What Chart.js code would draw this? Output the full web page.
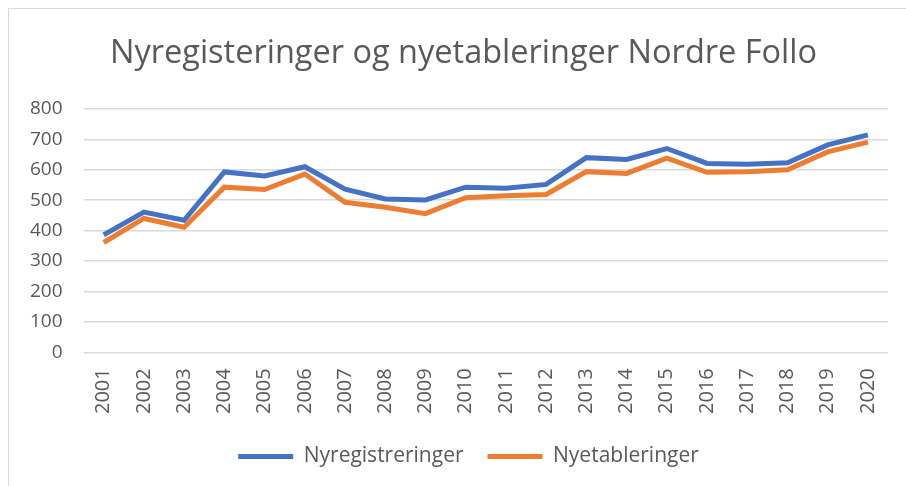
<!DOCTYPE html>
<html lang="no">
<head>
    <meta charset="UTF-8">
    <title>Nyregisteringer og nyetableringer Nordre Follo</title>
    <script src="https://cdn.jsdelivr.net/npm/chart.js"></script>
    <style>
        body {
            margin: 0;
            background: #ffffff;
            overflow: hidden;
        }
        .frame {
            position: absolute;
            left: 8px;
            top: 8px;
            width: 920px;
            height: 500px;
            border: 1px solid #d9d9d9;
            background: #ffffff;
        }
        .chart-box {
            position: absolute;
            left: 0;
            top: 0;
            width: 897px;
            height: 470px;
        }
    </style>
</head>
<body>

<div class="frame">
    <div class="chart-box">
        <canvas id="folloChart"></canvas>
    </div>
</div>

<script>
    // Years on the x axis
    const years = ['2001', '2002', '2003', '2004', '2005', '2006', '2007', '2008', '2009', '2010',
                   '2011', '2012', '2013', '2014', '2015', '2016', '2017', '2018', '2019', '2020'];

    // Values
    const nyregistreringer = [386, 461, 434, 593, 580, 610, 536, 504, 501, 543,
                              539, 552, 640, 634, 670, 621, 618, 623, 682, 715];
    const nyetableringer = [361, 440, 411, 543, 535, 586, 493, 477, 456, 508,
                            515, 519, 594, 588, 638, 592, 594, 600, 659, 691];

    const yTicks = [0, 100, 200, 300, 400, 500, 600, 700, 800];

    const textColor = '#595959';
    Chart.defaults.font.family = '"Open Sans", "Liberation Sans", sans-serif';
    Chart.defaults.color = textColor;

    // Excel centres title and legend over the whole frame, not the plot; nudge them right a bit
    const nudgeBoxes = {
        id: 'nudgeBoxes',
        afterLayout(chart) {
            if (chart.titleBlock) {
                chart.titleBlock.left += 15;
                chart.titleBlock.right += 15;
            }
            if (chart.legend) {
                chart.legend.left += 20;
                chart.legend.right += 20;
            }
        }
    };

    const ctx = document.getElementById('folloChart').getContext('2d');
    new Chart(ctx, {
        type: 'line',
        data: {
            labels: years,
            datasets: [
                {
                    label: 'Nyregistreringer',
                    data: nyregistreringer,
                    borderColor: '#4472C4',
                    backgroundColor: '#4472C4',
                    borderWidth: 5,
                    pointRadius: 0,
                    tension: 0
                },
                {
                    label: 'Nyetableringer',
                    data: nyetableringer,
                    borderColor: '#ED7D31',
                    backgroundColor: '#ED7D31',
                    borderWidth: 5,
                    pointRadius: 0,
                    tension: 0
                }
            ]
        },
        options: {
            responsive: true,
            maintainAspectRatio: false,
            animation: false,
            layout: {
                padding: { left: 0, right: 18, top: 0, bottom: 2 }
            },
            plugins: {
                title: {
                    display: true,
                    text: 'Nyregisteringer og nyetableringer Nordre Follo',
                    color: textColor,
                    font: { size: 32.5, weight: 'normal' },
                    padding: { top: 25, bottom: 36 }
                },
                legend: {
                    position: 'bottom',
                    labels: {
                        boxWidth: 55,
                        boxHeight: 5,
                        font: { size: 21 },
                        color: textColor,
                        padding: 24,
                        generateLabels: chart => chart.data.datasets.map((ds, i) => ({
                            text: ds.label,
                            fillStyle: ds.borderColor,
                            strokeStyle: ds.borderColor,
                            lineWidth: 0,
                            fontColor: textColor,
                            datasetIndex: i
                        }))
                    }
                },
                tooltip: { enabled: false }
            },
            scales: {
                x: {
                    offset: true,
                    grid: { display: false },
                    border: { display: false },
                    ticks: {
                        minRotation: 90,
                        maxRotation: 90,
                        font: { size: 20 },
                        color: textColor,
                        padding: 8
                    }
                },
                y: {
                    min: 0,
                    max: 800,
                    afterBuildTicks: scale => {
                        scale.ticks = yTicks.map(v => ({ value: v }));
                    },
                    grid: {
                        color: '#d9d9d9',
                        lineWidth: 1.5,
                        drawTicks: false
                    },
                    border: { display: false },
                    ticks: {
                        font: { size: 19 },
                        color: textColor,
                        padding: 21
                    }
                }
            }
        },
        plugins: [nudgeBoxes]
    });
</script>

</body>
</html>
